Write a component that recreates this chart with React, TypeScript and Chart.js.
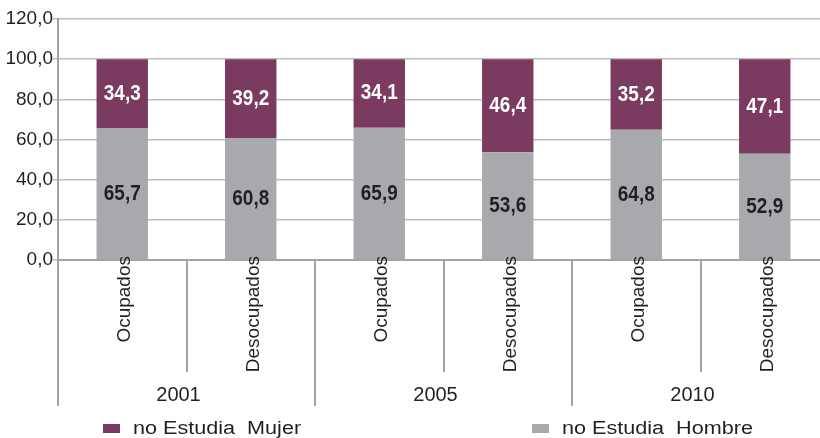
import React, { useEffect, useRef } from "react";
import { Chart, registerables } from "chart.js";

Chart.register(...registerables);

const categories = ["Ocupados", "Desocupados", "Ocupados", "Desocupados", "Ocupados", "Desocupados"];
const years = ["2001", "2005", "2010"];
const hombre = [65.7, 60.8, 65.9, 53.6, 64.8, 52.9];
const mujer = [34.3, 39.2, 34.1, 46.4, 35.2, 47.1];
const seriesNames = ["no Estudia  Hombre", "no Estudia  Mujer"];
const yMin = 0;
const yMax = 120;
const yStep = 20;

const PURPLE = "#7B3A60";
const GRAY = "#A7A9AC";
const TEXT = "#231F20";
const LINE = "#A3A3A3";
const GRID = "#BDBDBD";
const FONT = "'Liberation Sans', Arial, Helvetica, sans-serif";

const fmt = (v: number) => v.toFixed(1).replace(".", ",");

function drawText(ctx: CanvasRenderingContext2D, t: string, x: number, y: number, sx: number) {
  ctx.save();
  ctx.translate(x, y);
  ctx.scale(sx, 1);
  ctx.fillText(t, 0, 0);
  ctx.restore();
}

const customPlugin = {
  id: "custom",
  afterDatasetsDraw(chart: any) {
    const ctx: CanvasRenderingContext2D = chart.ctx;
    ctx.save();
    ctx.font = `bold 22px ${FONT}`;
    ctx.textAlign = "center";
    ctx.textBaseline = "middle";
    chart.data.datasets.forEach((ds: any, di: number) => {
      const meta = chart.getDatasetMeta(di);
      meta.data.forEach((el: any, i: number) => {
        const v = ds.data[i];
        ctx.fillStyle = di === 1 ? "#FFFFFF" : TEXT;
        drawText(ctx, fmt(v), el.x, (el.y + el.base) / 2, 0.86);
      });
    });
    ctx.restore();
  },
  afterDraw(chart: any) {
    const ctx: CanvasRenderingContext2D = chart.ctx;
    const area = chart.chartArea;
    const xs = chart.scales.x;
    const n = categories.length;
    const boundary = (k: number) => {
      if (k === 0) return area.left;
      if (k === n) return area.right;
      return (xs.getPixelForValue(k - 1) + xs.getPixelForValue(k)) / 2;
    };
    ctx.save();
    // separators
    ctx.strokeStyle = LINE;
    ctx.lineWidth = 2;
    for (let k = 0; k <= n; k++) {
      const bx = Math.round(boundary(k));
      const isGroup = k % 2 === 0;
      ctx.beginPath();
      ctx.moveTo(bx, area.bottom);
      ctx.lineTo(bx, isGroup ? area.bottom + 146 : area.bottom + 112);
      ctx.stroke();
    }
    // category labels rotated
    ctx.fillStyle = TEXT;
    ctx.font = `19px ${FONT}`;
    ctx.textAlign = "right";
    ctx.textBaseline = "middle";
    categories.forEach((c, i) => {
      const px = xs.getPixelForValue(i) + 3;
      ctx.save();
      ctx.translate(px, area.bottom - 4);
      ctx.rotate(-Math.PI / 2);
      ctx.fillText(c, 0, 0);
      ctx.restore();
    });
    // group labels
    ctx.font = `20px ${FONT}`;
    ctx.textAlign = "center";
    ctx.textBaseline = "alphabetic";
    years.forEach((y, g) => {
      const gx = boundary(g * 2 + 1) - 8;
      ctx.fillText(y, gx, area.bottom + 141);
    });
    // legend
    const items = [
      { name: chart.data.datasets[1].label, color: chart.data.datasets[1].backgroundColor, x: 103 },
      { name: chart.data.datasets[0].label, color: chart.data.datasets[0].backgroundColor, x: 532 },
    ];
    ctx.font = `18px ${FONT}`;
    ctx.textAlign = "left";
    ctx.textBaseline = "alphabetic";
    items.forEach((it) => {
      ctx.fillStyle = it.color;
      ctx.fillRect(it.x, 424, 17, 9);
      ctx.fillStyle = TEXT;
      drawText(ctx, it.name, it.x + 30, 434, 1.2);
    });
    ctx.restore();
  },
};

export default function App() {
  const ref = useRef<HTMLCanvasElement | null>(null);
  useEffect(() => {
    if (!ref.current) return;
    const chart = new Chart(ref.current, {
      type: "bar",
      data: {
        labels: categories,
        datasets: [
          { label: seriesNames[0], data: hombre, backgroundColor: GRAY, barPercentage: 0.4, categoryPercentage: 1 },
          { label: seriesNames[1], data: mujer, backgroundColor: PURPLE, barPercentage: 0.4, categoryPercentage: 1 },
        ],
      },
      options: {
        responsive: false,
        animation: false,
        devicePixelRatio: 1,
        layout: { padding: { top: 19, left: 0, right: 0, bottom: 0 } },
        plugins: { legend: { display: false }, tooltip: { enabled: false } },
        scales: {
          x: {
            stacked: true,
            grid: { display: false },
            ticks: { display: false },
            border: { display: true, color: LINE, width: 2 },
            afterFit: (s: any) => {
              s.height = 178;
            },
          },
          y: {
            stacked: true,
            min: yMin,
            max: yMax,
            ticks: {
              stepSize: yStep,
              padding: 0,
              color: TEXT,
              font: { family: FONT, size: 19 },
              callback: (v: any) => fmt(Number(v)),
            },
            grid: { color: GRID, lineWidth: 1.5, tickLength: 5 },
            border: { display: true, color: LINE, width: 2 },
            afterFit: (s: any) => {
              s.width = 58;
            },
          },
        },
      },
      plugins: [customPlugin],
    });
    return () => chart.destroy();
  }, []);
  return (
    <div style={{ position: "absolute", left: 0, top: 0, width: 820, height: 438, overflow: "hidden", background: "#fff" }}>
      <canvas ref={ref} width={829} height={438} style={{ display: "block" }} />
    </div>
  );
}
